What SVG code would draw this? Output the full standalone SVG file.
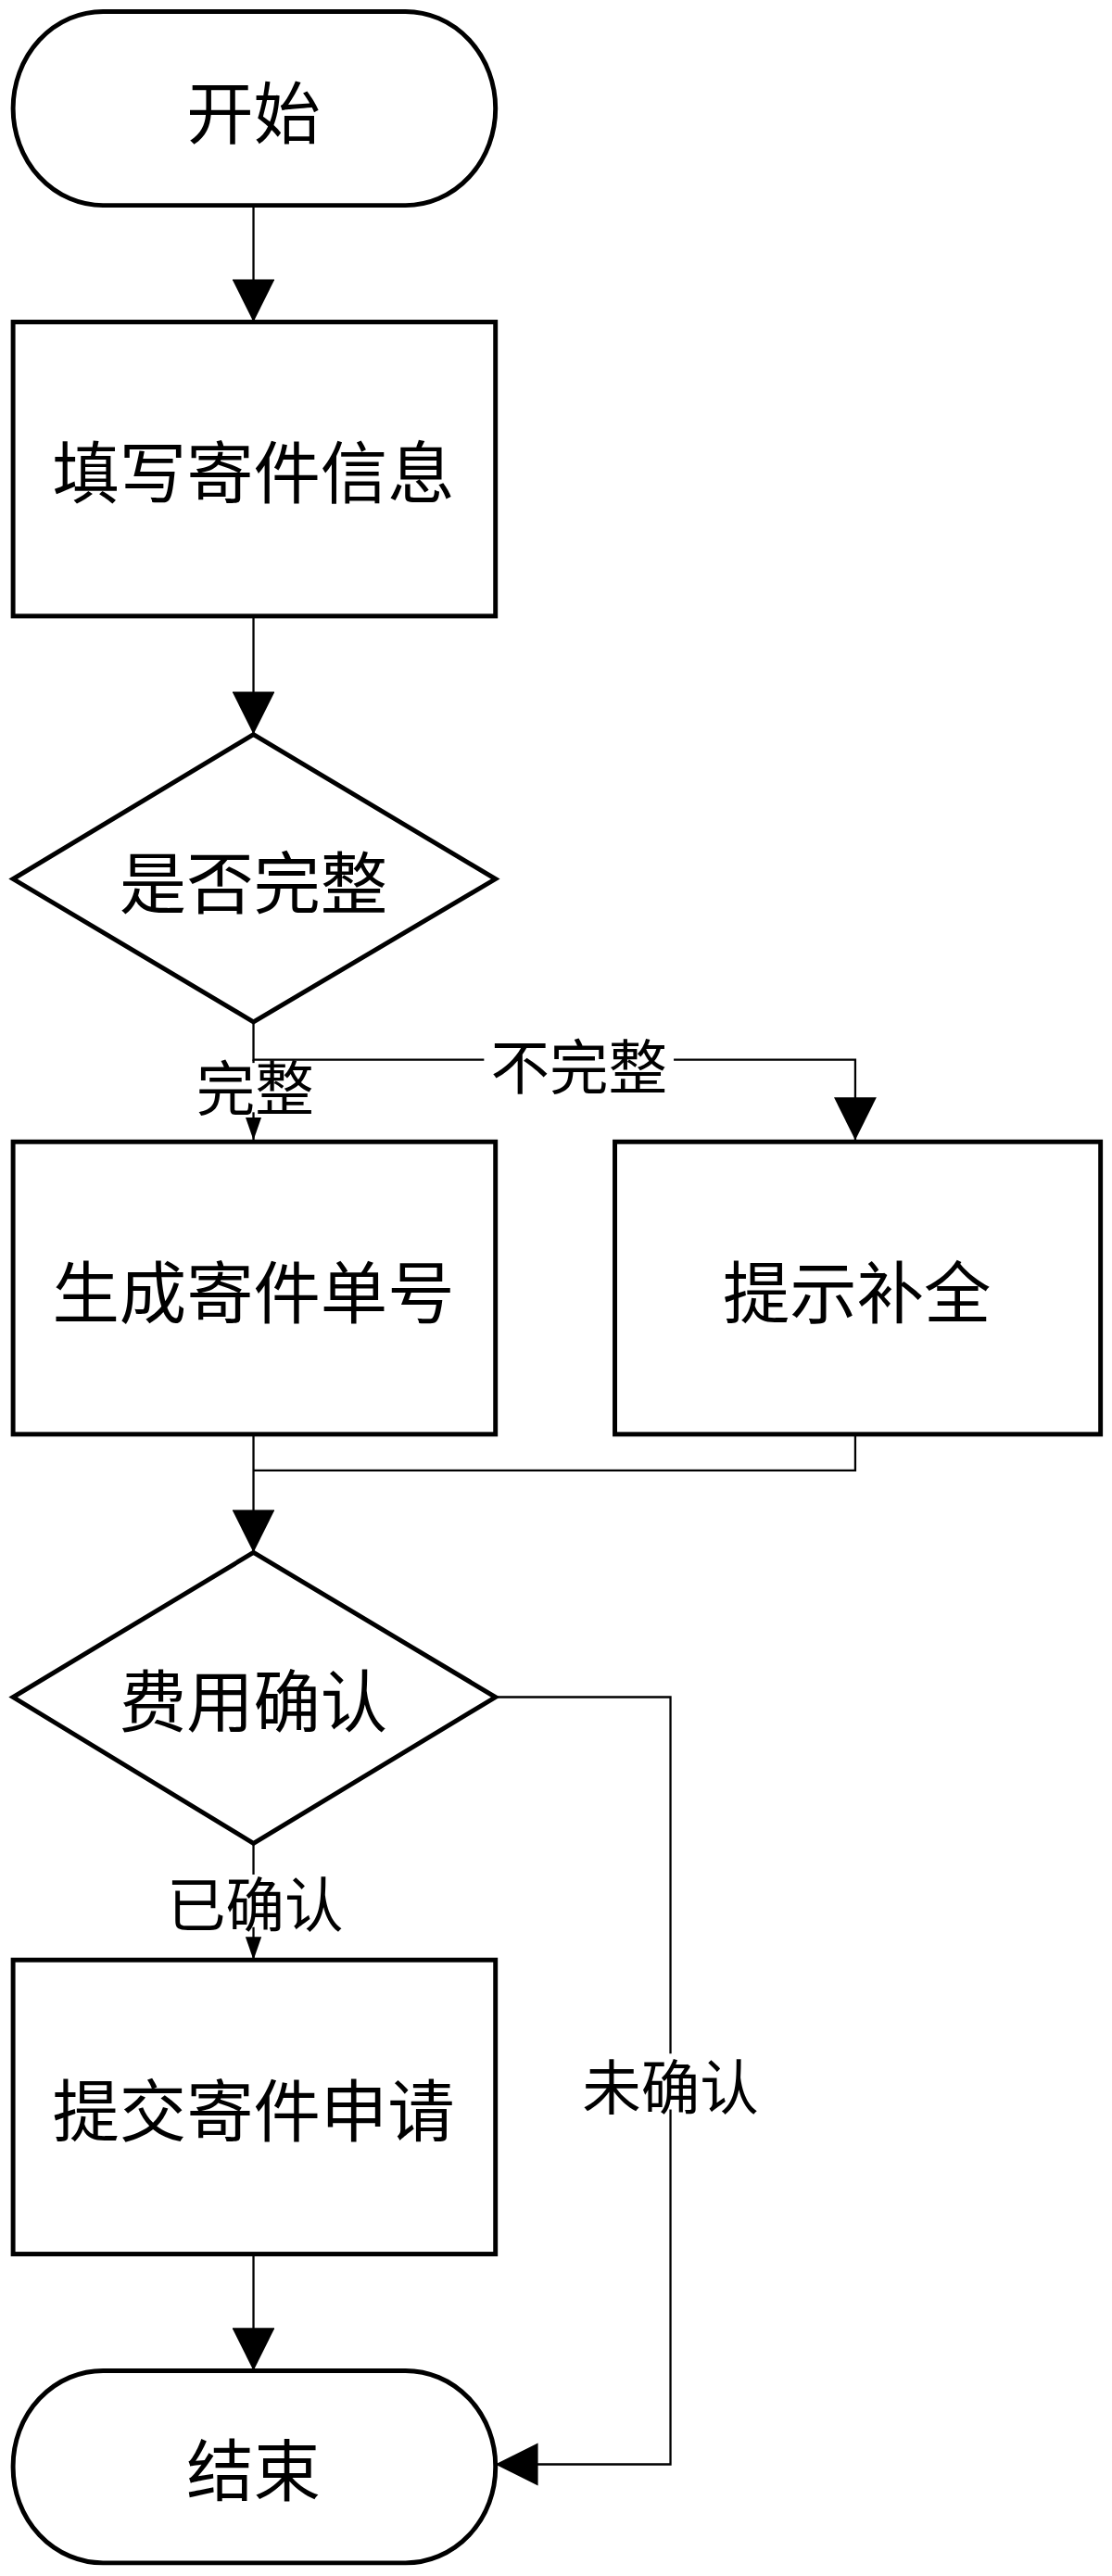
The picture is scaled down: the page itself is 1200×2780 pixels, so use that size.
<svg xmlns="http://www.w3.org/2000/svg" width="1200" height="2780" viewBox="0 0 1200 2780">
<style>
.s{fill:#fff;stroke:#000;stroke-width:2.8}
.t{font-family:"Noto Sans CJK SC",sans-serif;font-size:41px;text-anchor:middle;dominant-baseline:central;fill:#000}
.l{font-family:"Noto Sans CJK SC",sans-serif;font-size:36px;text-anchor:middle;dominant-baseline:central;fill:#000}
.c{fill:none;stroke:#000;stroke-width:1.3}
</style>
<defs>
<marker id="a" viewBox="0 0 10 10" refX="10" refY="5" markerWidth="14" markerHeight="14" markerUnits="userSpaceOnUse" orient="auto"><path d="M0,1.5L10,5L0,8.5z" fill="#000"/></marker>
<marker id="b" viewBox="0 0 10 10" refX="10" refY="5" markerWidth="26" markerHeight="26" markerUnits="userSpaceOnUse" orient="auto"><path d="M0,0L10,5L0,10z" fill="#000"/></marker>
</defs>
<rect width="1200" height="2780" fill="#fff"/>
<g transform="scale(1.7647 1.773)">
<g id="connectors">
<path class="c" d="M155,125V196" marker-end="url(#b)"/>
<path class="c" d="M155,375V447" marker-end="url(#b)"/>
<path class="c" d="M155,622V645H523V694" marker-end="url(#b)"/>
<path class="c" d="M155,645V694" marker-end="url(#a)"/>
<path class="c" d="M155,873V945" marker-end="url(#b)"/>
<path class="c" d="M523,873V895H155"/>
<path class="c" d="M155,1122V1193" marker-end="url(#a)"/>
<path class="c" d="M303,1033H410V1500H303" marker-end="url(#b)"/>
<path class="c" d="M155,1372V1443" marker-end="url(#b)"/>
<rect x="296" y="630" width="116" height="32" fill="#fff"/>
<text class="l" x="354" y="647">不完整</text>
<rect x="118" y="647" width="76" height="30" fill="#fff"/>
<text class="l" x="156" y="660">完整</text>
<rect x="99" y="1141" width="114" height="32" fill="#fff"/>
<text class="l" x="156" y="1157">已确认</text>
<rect x="353" y="1250" width="114" height="34" fill="#fff"/>
<text class="l" x="410" y="1268">未确认</text>
</g>
<g id="start"><rect class="s" x="8" y="7" width="295" height="118" rx="55" ry="59"/><text class="t" x="155" y="66">开始</text></g>
<g id="fill"><rect class="s" x="8" y="196" width="295" height="179"/><text class="t" x="155" y="285">填写寄件信息</text></g>
<g id="check"><path class="s" d="M155,447L303,535L155,622L8,535z"/><text class="t" x="155" y="535">是否完整</text></g>
<g id="gen"><rect class="s" x="8" y="695" width="295" height="178"/><text class="t" x="155" y="784">生成寄件单号</text></g>
<g id="hint"><rect class="s" x="376" y="695" width="297" height="178"/><text class="t" x="524" y="784">提示补全</text></g>
<g id="fee"><path class="s" d="M155,945L303,1033L155,1122L8,1033z"/><text class="t" x="155" y="1033">费用确认</text></g>
<g id="submit"><rect class="s" x="8" y="1193" width="295" height="179"/><text class="t" x="155" y="1282">提交寄件申请</text></g>
<g id="end"><rect class="s" x="8" y="1443" width="295" height="117" rx="55" ry="58"/><text class="t" x="155" y="1501">结束</text></g>
</g>
</svg>
